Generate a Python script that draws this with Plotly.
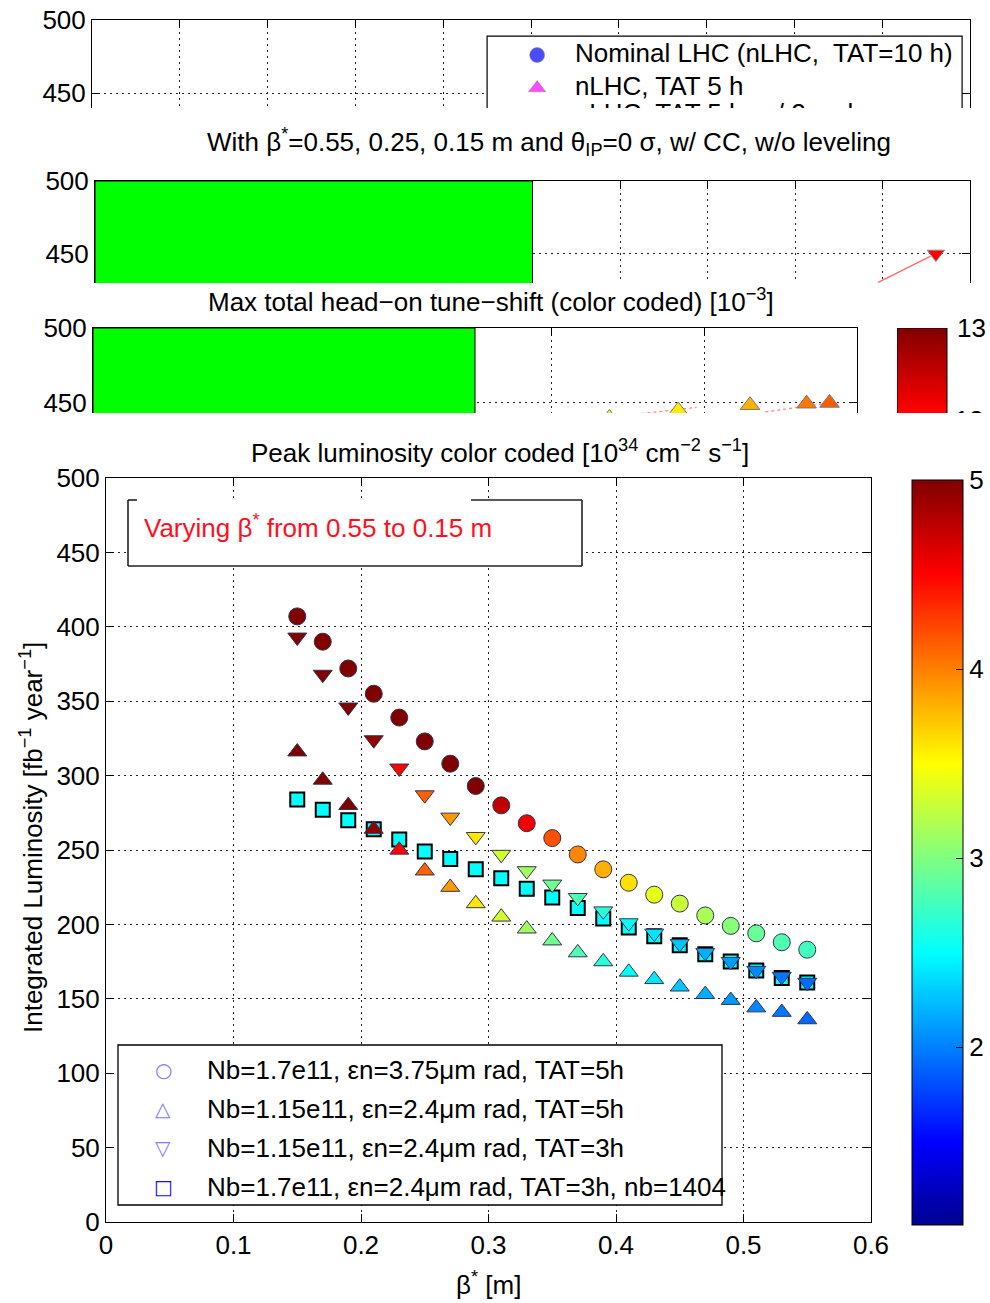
import numpy as np
import plotly.graph_objects as go

W, H = 990, 1303
FONT = "Liberation Sans, Arial, Helvetica, sans-serif"
FS = 26  # base font size

# ---------------------------------------------------------------- data
beta_star = [0.15, 0.17, 0.19, 0.21, 0.23, 0.25, 0.27, 0.29, 0.31, 0.33, 0.35,
             0.37, 0.39, 0.41, 0.43, 0.45, 0.47, 0.49, 0.51, 0.53, 0.55]

# integrated luminosity [fb^-1 / year]
int_lumi_nb170_e375_tat5 = [407, 390, 372, 355, 339, 323, 308, 293, 280, 268, 258,
                            247, 237, 228, 220, 214, 206, 199, 194, 188, 183]
int_lumi_nb115_e24_tat5 = [316, 297, 280, 264, 250, 236, 225, 214, 205, 197, 189,
                           181, 175, 168, 163, 158, 153, 149, 144, 141, 136]
int_lumi_nb115_e24_tat3 = [393, 368, 346, 324, 305, 287, 272, 259, 247, 236, 227,
                           218, 209, 201, 194, 187, 181, 175, 169, 165, 161]
int_lumi_nb170_e24_tat3_nb1404 = [284, 277, 270, 264, 257, 249, 244, 237, 231, 224, 218,
                                  211, 204, 198, 192, 186, 180, 175, 169, 164, 161]

# peak luminosity [1e34 cm^-2 s^-1] (marker colour)
peak_lumi_nb170_e375 = [9.9, 8.7, 7.8, 7.05, 6.43, 5.92, 5.48, 5.10, 4.75, 4.56, 4.19,
                        3.97, 3.81, 3.62, 3.41, 3.28, 3.16, 3.03, 2.91, 2.81, 2.75]
peak_lumi_nb115_e24 = [6.90, 6.09, 5.45, 4.93, 4.49, 4.12, 3.90, 3.59, 3.32, 3.13, 2.94,
                       2.81, 2.66, 2.52, 2.40, 2.28, 2.19, 2.10, 2.03, 1.97, 1.91]
peak_lumi_nb170_e24_nb1404 = [2.50, 2.50, 2.50, 2.50, 2.50, 2.50, 2.50, 2.50, 2.50, 2.50, 2.50,
                              2.50, 2.50, 2.50, 2.50, 2.50, 2.50, 2.50, 2.50, 2.50, 2.50]

legend_labels = ["Nb=1.7e11, \u03b5n=3.75\u03bcm rad, TAT=5h",
                 "Nb=1.15e11, \u03b5n=2.4\u03bcm rad, TAT=5h",
                 "Nb=1.15e11, \u03b5n=2.4\u03bcm rad, TAT=3h",
                 "Nb=1.7e11, \u03b5n=2.4\u03bcm rad, TAT=3h, nb=1404"]
legend_glyphs = ["\u25cb", "\u25b3", "\u25bd", "\u25a1"]
legend_glyph_colors = ["#8080ff", "#8080ff", "#8080ff", "#1010e0"]

PEAK_CMIN, PEAK_CMAX = 1.06, 5.0
PEAK_TICKS = [2, 3, 4, 5]

x_ticks = [0, 0.1, 0.2, 0.3, 0.4, 0.5, 0.6]
y_ticks = [0, 50, 100, 150, 200, 250, 300, 350, 400, 450, 500]

# background panels (earlier figures of the same series)
nominal_labels = ["Nominal LHC (nLHC,  TAT=10 h)", "nLHC, TAT 5 h", "nLHC, TAT 5 h, w/ 2 x nb"]
nominal_y = [476.0, 453.4, 434.5]
nominal_colors = ["#0000ff", "#ff00ff"]
nominal_symbols = ["circle", "triangle-up"]

cc_track_x = [8.95, 9.55]
cc_track_y = [430.5, 448.5]
cc_point_x = [9.61]
cc_point_y = [450]

tune_x = [3.38, 3.83, 4.30, 4.67, 4.82]
tune_y = [440, 445, 448.5, 449.5, 450]
tune_shift = [10.1, 10.5, 10.9, 11.3, 11.5]
tune_track_x = [3.55, 3.95, None, 4.40, 4.85]
tune_track_y = [442.5, 447.0, None, 444.0, 450.5]
TUNE_CMIN, TUNE_CMAX = 6.08, 13.0

JET = [[0.0, "#00008f"], [0.111, "#0000ff"], [0.365, "#00ffff"],
       [0.619, "#ffff00"], [0.873, "#ff0000"], [1.0, "#800000"]]


def fx(p):
    return p / W


def fy(p):
    return 1 - p / H


# main axes pixel mapping helpers (for boxes drawn on the plot)
MX0, MX1, MY0, MY1 = 106, 871, 478, 1222


def mx(p):
    return (p - MX0) / (MX1 - MX0) * 0.6


def my(p):
    return (MY1 - p) / (MY1 - MY0) * 500


fig = go.Figure()

edge = dict(color="#34344e", width=1)
fig.add_trace(go.Scatter(x=beta_star, y=int_lumi_nb170_e24_tat3_nb1404, mode="markers",
                         marker=dict(symbol="square", size=14, color=peak_lumi_nb170_e24_nb1404,
                                     coloraxis="coloraxis", line=dict(color="black", width=2)),
                         showlegend=False))
fig.add_trace(go.Scatter(x=beta_star, y=int_lumi_nb170_e375_tat5, mode="markers",
                         marker=dict(symbol="circle", size=17, color=peak_lumi_nb170_e375,
                                     coloraxis="coloraxis", line=edge),
                         showlegend=False))
fig.add_trace(go.Scatter(x=beta_star, y=int_lumi_nb115_e24_tat5, mode="markers",
                         marker=dict(symbol="triangle-up", size=16.5, color=peak_lumi_nb115_e24,
                                     coloraxis="coloraxis", line=edge),
                         showlegend=False))
fig.add_trace(go.Scatter(x=beta_star, y=int_lumi_nb115_e24_tat3, mode="markers",
                         marker=dict(symbol="triangle-down", size=16.5, color=peak_lumi_nb115_e24,
                                     coloraxis="coloraxis", line=edge),
                         showlegend=False))

# panel 1: nominal LHC legend fragment
fig.add_trace(go.Scatter(x=[5.07, 5.07], y=nominal_y[:2], mode="markers", xaxis="x2", yaxis="y2",
                         marker=dict(symbol=nominal_symbols, size=[15, 15], color=nominal_colors,
                                     line=dict(color="#555", width=0.5)),
                         showlegend=False))
fig.add_trace(go.Scatter(x=[5.50] * 3, y=nominal_y, mode="text", xaxis="x2", yaxis="y2",
                         text=nominal_labels, textposition="middle right",
                         textfont=dict(family=FONT, size=FS, color="black"),
                         showlegend=False))

# panel 2: crab-cavity scan fragment
fig.add_trace(go.Scatter(x=cc_track_x, y=cc_track_y, mode="lines", xaxis="x3", yaxis="y3",
                         line=dict(color="#ff7070", width=1.5), showlegend=False))
fig.add_trace(go.Scatter(x=cc_point_x, y=cc_point_y, mode="markers", xaxis="x3", yaxis="y3",
                         marker=dict(symbol="triangle-down", size=15, color="#ff0000",
                                     line=dict(color="#888", width=1)),
                         showlegend=False))

# panel 3: tune-shift fragment
fig.add_trace(go.Scatter(x=tune_track_x, y=tune_track_y, mode="lines", xaxis="x4", yaxis="y4",
                         line=dict(color="#ff8080", width=1.2, dash="dot"), showlegend=False))
fig.add_trace(go.Scatter(x=tune_x, y=tune_y, mode="markers", xaxis="x4", yaxis="y4",
                         marker=dict(symbol="triangle-up", size=17, color=tune_shift,
                                     coloraxis="coloraxis2", line=dict(color="#777", width=1)),
                         showlegend=False))
cb_levels = np.linspace(12.0, 13.0, 40)
fig.add_trace(go.Heatmap(x=[0, 50], y=cb_levels, z=[[v] for v in cb_levels], xaxis="x5", yaxis="y5",
                         coloraxis="coloraxis2", showscale=False, hoverinfo="skip"))
fig.add_trace(go.Scatter(x=[72], y=[12.0], mode="text", xaxis="x5", yaxis="y5", text=["12"],
                         textfont=dict(family=FONT, size=FS, color="black"), showlegend=False))

# ---------------------------------------------------------------- axes
GRID = dict(showgrid=True, gridcolor="#222", griddash="2px,4px", gridwidth=1, zeroline=False)


def ax(**kw):
    d = dict(showline=True, linecolor="black", linewidth=1, ticks="inside", ticklen=8,
             tickcolor="black", tickwidth=1,
             tickfont=dict(family=FONT, size=FS, color="black"), **GRID)
    d.update(kw)
    return d


layout = dict(
    width=W, height=H, margin=dict(l=0, r=0, t=0, b=0, autoexpand=False),
    paper_bgcolor="white", plot_bgcolor="white", showlegend=False,
    xaxis=ax(domain=[fx(MX0), fx(MX1)], range=[0, 0.6], tickvals=x_ticks, mirror="ticks", anchor="y"),
    yaxis=ax(domain=[fy(MY1), fy(MY0)], range=[0, 500], tickvals=y_ticks, mirror="ticks", anchor="x"),
    xaxis2=ax(domain=[fx(92), fx(970)], range=[0, 10], dtick=1, side="top", showticklabels=False,
              anchor="y2"),
    yaxis2=ax(domain=[fy(108), fy(20)], range=[439.73, 500], tickvals=[450, 500], mirror="ticks",
              anchor="x2"),
    xaxis3=ax(domain=[fx(95), fx(970)], range=[0, 10], dtick=1, side="top", showticklabels=False,
              anchor="y3"),
    yaxis3=ax(domain=[fy(283), fy(181)], range=[430.1, 500], tickvals=[450, 500], mirror="ticks",
              anchor="x3"),
    xaxis4=ax(domain=[fx(93), fx(857)], range=[0, 5], dtick=1, side="top", showticklabels=False,
              anchor="y4"),
    yaxis4=ax(domain=[fy(413), fy(328)], range=[443.3, 500], tickvals=[450, 500], mirror="ticks",
              anchor="x4"),
    xaxis5=dict(domain=[fx(897), fx(990)], range=[0, 93], visible=False, anchor="y5"),
    yaxis5=dict(domain=[fy(413), fy(328)], range=[12.1, 13.0], visible=False, anchor="x5"),
    coloraxis=dict(colorscale=JET, cmin=PEAK_CMIN, cmax=PEAK_CMAX,
                   colorbar=dict(x=fx(912), xanchor="left", thickness=51, thicknessmode="pixels",
                                 len=745, lenmode="pixels", y=fy((480 + 1225) / 2), yanchor="middle",
                                 outlinewidth=1, outlinecolor="black", tickvals=PEAK_TICKS,
                                 ticks="inside", ticklen=7, tickcolor="black", xpad=0, ypad=0,
                                 tickfont=dict(family=FONT, size=FS, color="black"))),
    coloraxis2=dict(colorscale=JET, cmin=TUNE_CMIN, cmax=TUNE_CMAX, showscale=False),
)
fig.update_layout(**layout)

# ---------------------------------------------------------------- shapes
shapes = []
# panel 1 legend box
shapes.append(dict(type="rect", xref="x2", yref="y2", x0=4.50, x1=9.91, y0=400, y1=489.0,
                   fillcolor="white", line=dict(color="black", width=1.2), layer="between"))
# green areas of panels 2 and 3
shapes.append(dict(type="rect", xref="x3", yref="y3", x0=0, x1=5, y0=380, y1=500,
                   fillcolor="#00ff00", line=dict(color="black", width=1), layer="above"))
shapes.append(dict(type="rect", xref="x4", yref="y4", x0=0, x1=2.5, y0=400, y1=500,
                   fillcolor="#00ff00", line=dict(color="black", width=1), layer="above"))
# panel 3 colour bar frame
shapes.append(dict(type="rect", xref="x5", yref="y5", x0=0, x1=50, y0=11.0, y1=13.0,
                   line=dict(color="black", width=1), layer="above"))

# main legend box
shapes.append(dict(type="rect", xref="x", yref="y", x0=mx(118), x1=mx(722), y0=my(1205), y1=my(1045),
                   fillcolor="white", line=dict(color="black", width=1.3), layer="between"))
# annotation box (top edge partly open)
shapes.append(dict(type="rect", xref="x", yref="y", x0=mx(128), x1=mx(582), y0=my(566), y1=my(500),
                   fillcolor="white", line=dict(width=0), layer="between"))
box_edges = [((128, 500), (128, 566)), ((128, 566), (582, 566)), ((582, 500), (582, 566)),
             ((128, 500), (137, 500)), ((471, 500), (582, 500))]
for (ax0, ay0), (ax1, ay1) in box_edges:
    shapes.append(dict(type="line", xref="x", yref="y", x0=mx(ax0), y0=my(ay0), x1=mx(ax1), y1=my(ay1),
                       line=dict(color="#222", width=1.6), layer="between"))
fig.update_layout(shapes=shapes)

# ---------------------------------------------------------------- text
ann = []


def text(x, y, s, size=FS, color="black", xanchor="center", family=FONT, angle=0):
    ann.append(dict(x=fx(x), y=fy(y), xref="paper", yref="paper", text=s, showarrow=False,
                    xanchor=xanchor, yanchor="middle", textangle=angle,
                    font=dict(family=family, size=size, color=color)))


text(549, 142, "With \u03b2<sup>*</sup>=0.55, 0.25, 0.15 m and \u03b8<sub>IP</sub>=0 \u03c3, w/ CC, w/o leveling")
text(491, 300, "Max total head\u2212on tune\u2212shift (color coded) [10<sup>\u22123</sup>]")
text(955, 328, "13", xanchor="left")
text(500, 452, "Peak luminosity color coded [10<sup>34</sup> cm<sup>\u22122</sup> s<sup>\u22121</sup>]")
text(142, 526, "Varying \u03b2<sup>*</sup> from 0.55 to 0.15 m", color="#ff1020", xanchor="left")
text(32, 838, "Integrated Luminosity [fb<sup>\u22121</sup> year<sup>\u22121</sup>]", angle=-90)
text(488, 1283, "\u03b2<sup>*</sup> [m]")

legend_rows = [1070, 1109, 1148, 1187]
for yy, g, c, lab in zip(legend_rows, legend_glyphs, legend_glyph_colors, legend_labels):
    text(163, yy, g, size=20, color=c, family="DejaVu Sans")
    text(205, yy, lab, xanchor="left")

fig.update_layout(annotations=ann)

fig.write_html("out.html")
